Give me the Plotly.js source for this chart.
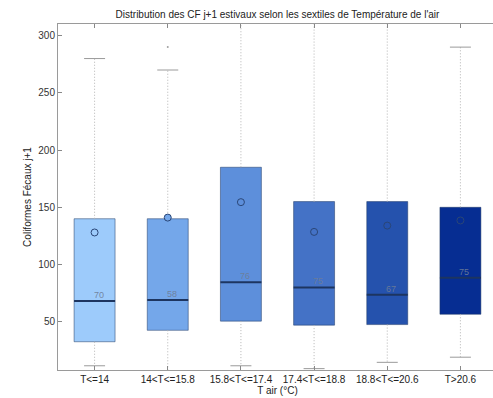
<!DOCTYPE html>
<html>
<head>
<meta charset="utf-8">
<script src="https://cdn.plot.ly/plotly-3.0.1.min.js"></script>
<style>
html,body{margin:0;padding:0;overflow:hidden;background:#fff;}
#chart{width:500px;height:398px;}
</style>
</head>
<body>
<div id="chart"></div>
<script>
// ---- data ----
const categories = ['T<=14', '14<T<=15.8', '15.8<T<=17.4', '17.4<T<=18.8', '18.8<T<=20.6', 'T>20.6'];
const q1 = [32.5, 42.5, 50.5, 47, 47.5, 56.5];
const medians = [68, 69, 84.5, 80, 73.5, 88.5];
const q3 = [140, 140, 185, 155, 155, 150];
const lowerWhisker = [11.5, 4, 11.5, 9, 14.5, 19];
const upperWhisker = [280, 270, 330, 330, 330, 290];
const means = [128, 141, 154.5, 128.5, 134, 138.5];
const medianLabels = ['70', '58', '76', '75', '67', '75'];
const outlierCategories = ['14<T<=15.8'];
const outlierValues = [290];
const boxColors = ['#9dcbfb', '#74a7ea', '#5d8fdb', '#4472c6', '#2552ad', '#062d92'];

// ---- build traces ----
const whiskX = [], whiskY = [];
categories.forEach((c, i) => {
  whiskX.push(c, c, null, c, c, null);
  whiskY.push(q3[i], upperWhisker[i], null, q1[i], lowerWhisker[i], null);
});

const traces = [
  { // whiskers
    type: 'scatter', mode: 'lines', x: whiskX, y: whiskY,
    line: {color: '#b4b4b4', width: 1, dash: '1px,2px'}, hoverinfo: 'skip', showlegend: false
  },
  { // boxes
    type: 'bar', x: categories, base: q1, y: q3.map((v, i) => v - q1[i]),
    width: 0.56,
    marker: {color: boxColors, line: {color: 'rgba(30,55,100,0.5)', width: 1}},
    showlegend: false
  },
  { // medians
    type: 'scatter', mode: 'markers', x: categories, y: medians,
    marker: {symbol: 'line-ew', size: 29.3, line: {color: '#1d3560', width: 2}},
    showlegend: false
  },
  { // whisker caps
    type: 'scatter', mode: 'markers',
    x: categories.concat(categories), y: upperWhisker.concat(lowerWhisker),
    marker: {symbol: 'line-ew', size: 15, line: {color: '#9a9a9a', width: 1}},
    showlegend: false
  },
  { // outliers
    type: 'scatter', mode: 'markers', x: outlierCategories, y: outlierValues,
    marker: {symbol: 'circle', size: 2, color: '#a0a0a0'}, showlegend: false
  },
  { // means
    type: 'scatter', mode: 'markers', x: categories, y: means,
    marker: {symbol: 'circle', size: 7, color: boxColors, line: {color: '#2a4677', width: 1}},
    showlegend: false
  }
];

const annotations = categories.map((c, i) => ({
  x: c, y: medians[i], xref: 'x', yref: 'y', text: medianLabels[i],
  showarrow: false, yanchor: 'bottom', xanchor: 'center', xshift: 4, yshift: -1,
  font: {family: 'Liberation Sans, Arial, sans-serif', size: 9, color: 'rgba(110,125,150,0.9)'}
}));

const layout = {
  width: 500, height: 398,
  margin: {l: 58, r: 3, t: 24, b: 28},
  paper_bgcolor: '#fff', plot_bgcolor: '#fff',
  font: {family: 'Liberation Sans, Arial, sans-serif', size: 10, color: '#222'},
  title: {text: "Distribution des CF j+1 estivaux selon les sextiles de Température de l'air",
          font: {size: 10, color: '#222'}, xref: 'paper', x: 0.5, xanchor: 'center',
          yref: 'container', y: 0.964, yanchor: 'middle'},
  showlegend: false,
  bargap: 0,
  xaxis: {
    type: 'category', categoryorder: 'array', categoryarray: categories,
    range: [-0.5, 5.5], showgrid: false, zeroline: false,
    showline: true, linecolor: '#9a9a9a', linewidth: 1, mirror: 'ticks',
    ticks: 'inside', ticklen: 4, tickcolor: '#888',
    tickfont: {size: 10, color: '#222'},
    title: {text: 'T air (°C)', font: {size: 10, color: '#222'}, standoff: 2}
  },
  yaxis: {
    range: [7.8, 310.2], tickvals: [50, 100, 150, 200, 250, 300],
    showgrid: false, zeroline: false,
    showline: true, linecolor: '#9a9a9a', linewidth: 1, mirror: 'ticks',
    ticks: 'inside', ticklen: 4, tickcolor: '#888',
    tickfont: {size: 10, color: '#333'},
    title: {text: 'Coliformes Fécaux j+1', font: {size: 10, color: '#222'}, standoff: 4}
  },
  annotations: annotations
};

Plotly.newPlot('chart', traces, layout, {displayModeBar: false, staticPlot: true});
</script>
</body>
</html>
